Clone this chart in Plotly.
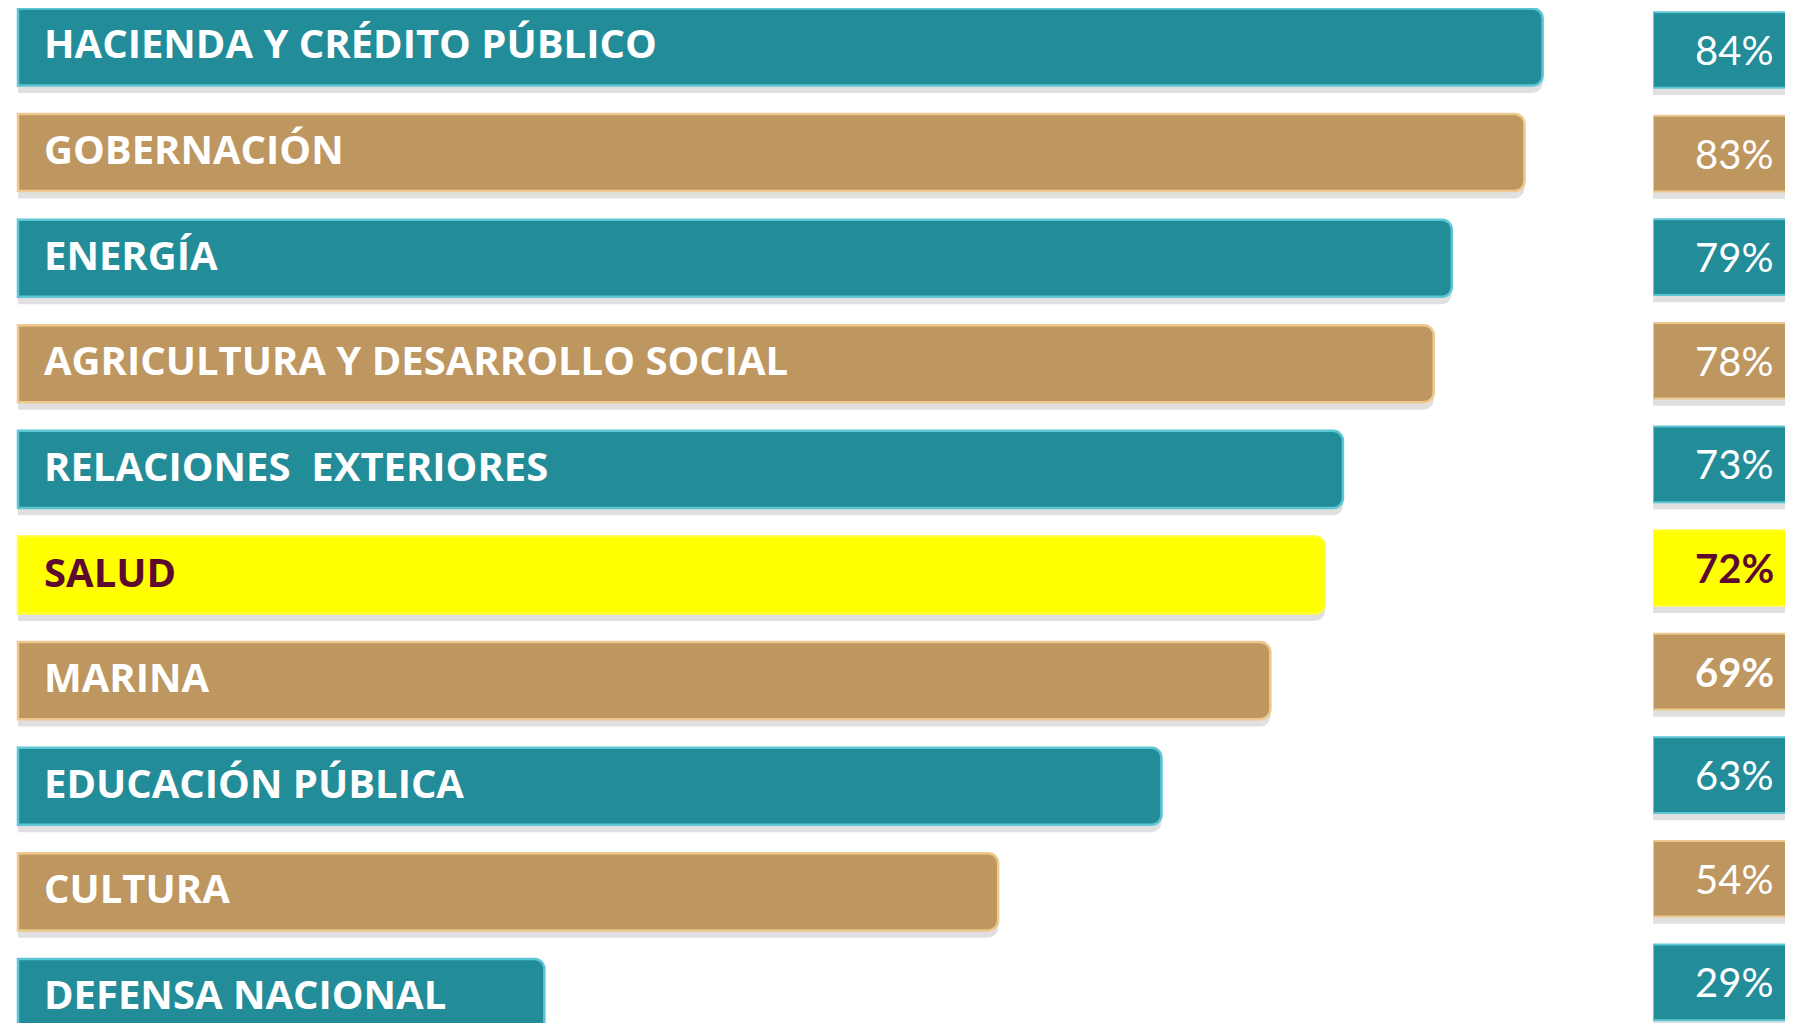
import plotly.graph_objects as go

categorias = [
    "HACIENDA Y CRÉDITO PÚBLICO",
    "GOBERNACIÓN",
    "ENERGÍA",
    "AGRICULTURA Y DESARROLLO SOCIAL",
    "RELACIONES  EXTERIORES",
    "SALUD",
    "MARINA",
    "EDUCACIÓN PÚBLICA",
    "CULTURA",
    "DEFENSA NACIONAL",
]
porcentajes = [84, 83, 79, 78, 73, 72, 69, 63, 54, 29]
etiquetas = ["84%", "83%", "79%", "78%", "73%", "72%", "69%", "63%", "54%", "29%"]
grupo = ["t", "g", "t", "g", "t", "y", "g", "t", "g", "t"]

TEAL, GOLD, YELLOW = "#228C99", "#BE965F", "#FFFF00"
fill = {"t": TEAL, "g": GOLD, "y": YELLOW}
edge = {"t": "#5CC6D4", "g": "#EDC98E", "y": "#FFFF33"}
txtcol = {"t": "white", "g": "white", "y": "#5C0A2E"}

colores = [fill[g] for g in grupo]
bordes = [edge[g] for g in grupo]

W = 0.73
fig = go.Figure()

# shadows (left bars)
fig.add_trace(go.Bar(
    x=porcentajes, y=categorias, orientation="h",
    width=W, offset=-W / 2 + 0.07,
    marker=dict(color="rgba(0,0,0,0.12)", line=dict(width=0), cornerradius=10),
    hoverinfo="skip", showlegend=False, xaxis="x", yaxis="y",
))
# main bars
fig.add_trace(go.Bar(
    x=porcentajes, y=categorias, orientation="h",
    width=W, offset=-W / 2,
    marker=dict(color=colores, line=dict(color=bordes, width=2.5), cornerradius=10),
    showlegend=False, xaxis="x", yaxis="y",
))

# right value boxes
unos = [1] * len(categorias)
fig.add_trace(go.Bar(
    x=unos, y=categorias, orientation="h",
    width=W, offset=-W / 2 + 0.07,
    marker=dict(color="rgba(0,0,0,0.12)", line=dict(width=0)),
    hoverinfo="skip", showlegend=False, xaxis="x2", yaxis="y2",
))
fig.add_trace(go.Bar(
    x=unos, y=categorias, orientation="h",
    width=W, offset=-W / 2,
    marker=dict(color=colores, line=dict(color=bordes, width=2)),
    showlegend=False, xaxis="x2", yaxis="y2",
))

annotations = []
for cat, g in zip(categorias, grupo):
    annotations.append(dict(
        x=0, y=cat, xref="x", yref="y", xanchor="left", yanchor="middle",
        xshift=24, yshift=4, showarrow=False, text=cat,
        font=dict(family="Open Sans, DejaVu Sans, sans-serif", size=40,
                  color=txtcol[g], weight=700),
    ))
for cat, lab, g in zip(categorias, etiquetas, grupo):
    bold = cat in ("SALUD", "MARINA")
    annotations.append(dict(
        x=0.55, y=cat, xref="x2", yref="y2", xanchor="center", yanchor="middle",
        showarrow=False, text=lab,
        font=dict(family="Lato, Open Sans, sans-serif", size=40,
                  color=txtcol[g], weight=700 if bold else 400),
    ))

fig.update_layout(
    width=1785, height=1015,
    margin=dict(l=0, r=0, t=0, b=0),
    paper_bgcolor="white", plot_bgcolor="white",
    barmode="overlay",
    xaxis=dict(domain=[0, 0.9], range=[-0.551, 87.96], visible=False, fixedrange=True),
    yaxis=dict(range=[9.242, -0.369], visible=False, type="category", fixedrange=True),
    xaxis2=dict(domain=[0.9216, 1.0], range=[0, 0.95], visible=False, anchor="y2"),
    yaxis2=dict(range=[9.392, -0.405], visible=False, type="category", anchor="x2",
                overlaying="y"),
    annotations=annotations,
)

fig.write_html("out.html")
